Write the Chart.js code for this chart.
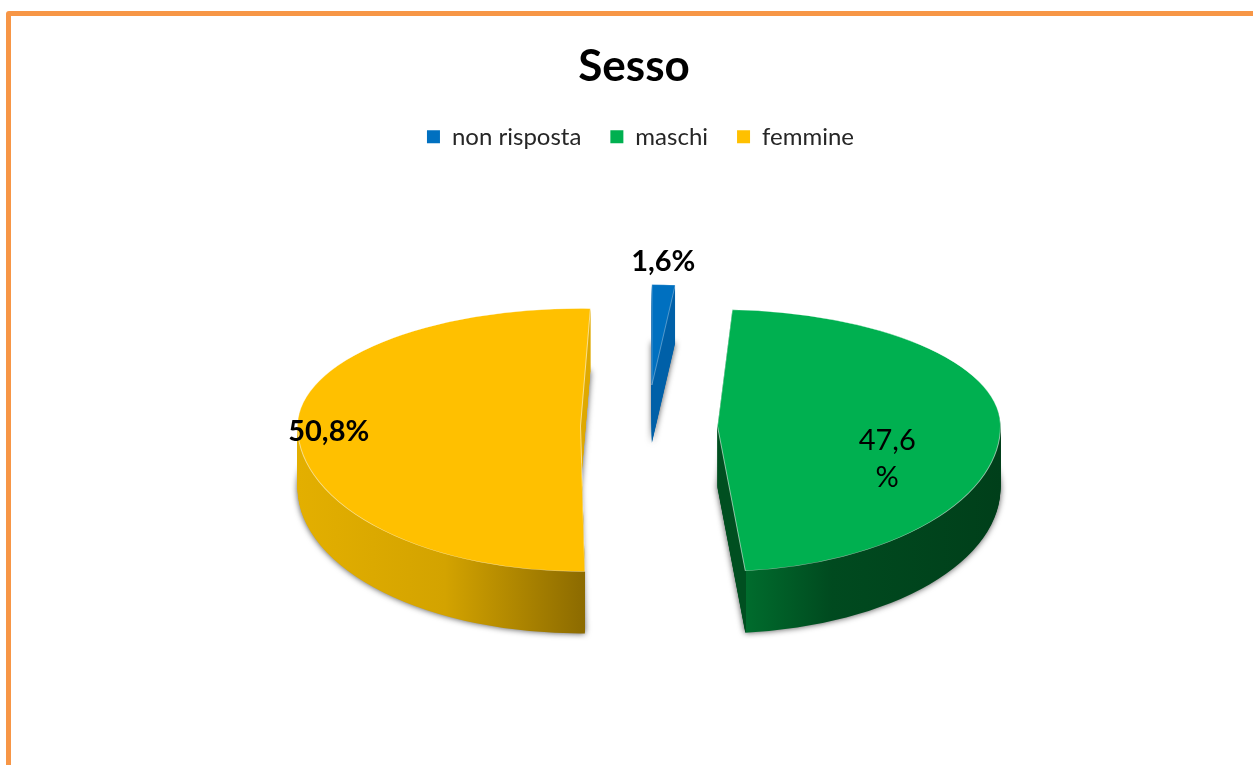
<!DOCTYPE html>
<html>
<head>
<meta charset="utf-8">
<style>
  html, body { margin: 0; padding: 0; background: #fff; overflow: hidden; width: 1253px; height: 765px; }
  #frame { position: absolute; left: 6px; top: 11px; width: 1400px; height: 900px; border: 5px solid #F79646; border-radius: 3px; box-sizing: border-box; }
  #myChart { position: absolute; left: 0; top: 0; }
</style>
<script src="https://cdn.jsdelivr.net/npm/chart.js@4"></script>
</head>
<body>
<div id="frame"></div>
<canvas id="myChart" width="1301" height="765"></canvas>
<script>
const categories = ["non risposta", "maschi", "femmine"];
const values = [1.6, 47.6, 50.8];
const valueLabels = ["1,6%", "47,6\n%", "50,8%"];

const faceColors = ["#0070C0", "#00B050", "#FFC000"];

// slice look, the 3d projection of the old chart
const PIE_RADIUS = 283;
const PIVOT_Y = 425;
const LIFT = 0.59;
const explode = [67.5, 67, 70];
const turn = [0, -2.76, 2];
const nudgeX = [-2, 0, 0];
const squeezeX = [0.82, 1, 1];
const tiltTop = [0.355, 0.411, 0.415];
const tiltBottom = [0.355, 0.514, 0.514];
const depth = [58, 62, 62];
const labelAt = [1.23, 0.6, 0.89];
const labelShiftX = [-3, 0, 0];
const labelShiftY = [0, 31, 2];
const labelBold = ["bold", "normal", "bold"];

function tipOf(arc, i) {
  const mid = (arc.startAngle + arc.endAngle) / 2;
  return {
    mid: mid,
    x: arc.x + Math.cos(mid) * explode[i] + nudgeX[i],
    y: Math.round(PIVOT_Y + Math.sin(mid) * explode[i] * LIFT)
  };
}

function wallFill(ctx, arc, i) {
  const left = arc.x - PIE_RADIUS, w = PIE_RADIUS * 2;
  if (i === 2) {
    // slightly tilted so the sliver behind the cut stays gold and the front stays brown
    const t = ctx.createLinearGradient(left, arc.y, left + w, arc.y - 32);
    t.addColorStop(0, "#E3AF00");
    t.addColorStop(0.25, "#D3A300");
    t.addColorStop(0.4975, "#8B6A00");
    t.addColorStop(0.4975, "#DFA900");
    t.addColorStop(1, "#DFA900");
    return t;
  }
  const g = ctx.createLinearGradient(left, 0, left + w, 0);
  if (i === 0) {
    g.addColorStop(0, "#0060A8");
    g.addColorStop(1, "#0060A8");
  } else {
    // flat inner wall up to the front corner, then the outer wall
    g.addColorStop(0, "#004F20");
    g.addColorStop(0.5265, "#004F20");
    g.addColorStop(0.5265, "#006C2D");
    g.addColorStop(0.68, "#004A1F");
    g.addColorStop(1, "#003F1A");
  }
  return g;
}

// draw one arc of the chart, flattened, top half and bottom half have their own tilt
function paintArc(chart, arc, i, dy, fill, stroke, shadow) {
  const ctx = chart.ctx;
  const tip = tipOf(arc, i);
  const saved = arc.options;
  arc.options = Object.assign({}, saved, {
    backgroundColor: fill,
    borderColor: stroke || "transparent",
    borderWidth: stroke ? 1 : 0,
    offset: 0
  });
  [tiltTop[i], tiltBottom[i]].forEach((tilt, n) => {
    ctx.save();
    ctx.beginPath();
    if (n === 0) ctx.rect(0, 0, chart.width, tip.y + dy);
    else ctx.rect(0, tip.y + dy, chart.width, chart.height);
    ctx.clip();
    if (shadow) {
      ctx.shadowColor = "rgba(0,0,0,0.7)";
      ctx.shadowBlur = 6;
    }
    ctx.translate(tip.x, tip.y + dy);
    ctx.scale(squeezeX[i], tilt);
    ctx.rotate(turn[i] * Math.PI / 180);
    ctx.translate(-arc.x, -arc.y);
    arc.draw(ctx);
    ctx.restore();
  });
  arc.options = saved;
}

const flatPie = {
  id: "flatPie",
  afterLayout(chart) {
    // title and legend do not sit on the pie centre in the old chart
    chart.titleBlock.left -= 16.5;
    chart.titleBlock.right -= 16.5;
    chart.legend.left -= 10;
    chart.legend.right -= 10;
  },
  beforeDatasetsDraw(chart) {
    const ctx = chart.ctx;
    const arcs = chart.getDatasetMeta(0).data;
    arcs.forEach((arc, i) => {
      const side = wallFill(ctx, arc, i);
      for (let d = depth[i]; d > 0; d--) {
        paintArc(chart, arc, i, d, side, null, d === depth[i]);
      }
      paintArc(chart, arc, i, 0, faceColors[i], "rgba(255,255,255,0.55)", false);
    });
    arcs.forEach((arc, i) => {
      const tip = tipOf(arc, i);
      const rx = Math.cos(tip.mid) * PIE_RADIUS * labelAt[i];
      const ry = Math.sin(tip.mid) * PIE_RADIUS * labelAt[i];
      const x = tip.x + rx * squeezeX[i] + labelShiftX[i];
      const y = tip.y + ry * (ry < 0 ? tiltTop[i] : tiltBottom[i]) + labelShiftY[i];
      ctx.save();
      ctx.fillStyle = "#000";
      ctx.textAlign = "center";
      ctx.textBaseline = "middle";
      ctx.font = labelBold[i] + " 29px Lato";
      const lines = valueLabels[i].split("\n");
      lines.forEach((line, n) => {
        ctx.fillText(line, x, y + (n - (lines.length - 1) / 2) * 37);
      });
      ctx.restore();
    });
    return false;
  }
};

const config = {
  type: "pie",
  data: {
    labels: categories,
    datasets: [
      {
        data: values,
        backgroundColor: faceColors,
        borderWidth: 0,
        radius: PIE_RADIUS,
      },
    ],
  },
  options: {
    responsive: false,
    animation: false,
    events: [],
    rotation: 0,
    layout: { padding: 0 },
    plugins: {
      tooltip: { enabled: false },
      title: {
        display: true,
        text: "Sesso",
        color: "#000",
        font: { family: "Lato", size: 44, weight: "bold" },
        padding: { top: 40, bottom: 3 },
      },
      legend: {
        position: "top",
        labels: {
          boxWidth: 13,
          boxHeight: 13,
          padding: 29,
          color: "#262626",
          font: { family: "Lato", size: 24 },
        },
      },
    },
  },
  plugins: [flatPie],
};

const context = document.getElementById("myChart").getContext("2d");
const chart = new Chart(context, config);
</script>
</body>
</html>
